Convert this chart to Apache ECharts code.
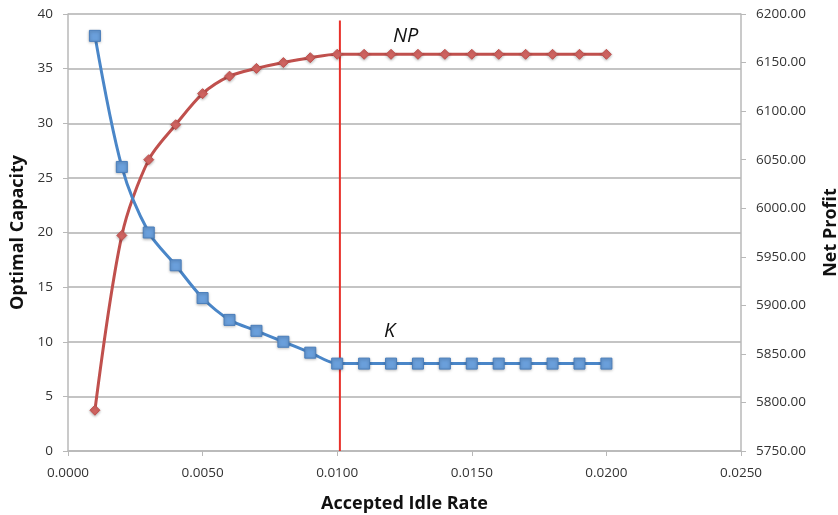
<!DOCTYPE html>
<html>
<head>
<meta charset="utf-8">
<script src="https://cdn.jsdelivr.net/npm/echarts@6/dist/echarts.min.js"></script>
<style>
  html, body { margin: 0; padding: 0; background: #fff; }
  #chart { width: 838px; height: 515px; }
</style>
</head>
<body>
<div id="chart"></div>
<script>
// accepted idle rate
const idleRates = [0.001, 0.002, 0.003, 0.004, 0.005, 0.006, 0.007, 0.008, 0.009, 0.010,
  0.011, 0.012, 0.013, 0.014, 0.015, 0.016, 0.017, 0.018, 0.019, 0.020]
// optimal capacity K
const capacity = [38, 26, 20, 17, 14, 12, 11, 10, 9, 8, 8, 8, 8, 8, 8, 8, 8, 8, 8, 8]
// net profit NP
const netProfit = [5792, 5972, 6050, 6086, 6118, 6136, 6144, 6150, 6155, 6158.5,
  6158.5, 6158.5, 6158.5, 6158.5, 6158.5, 6158.5, 6158.5, 6158.5, 6158.5, 6158.5]
// vertical marker line
const cutX = [0.0101, 0.0101]
const cutY = [0, 39.4]

const chart = echarts.init(document.getElementById('chart'))

const axisGray = '#b8b8b8'
const labelStyle = { color: '#333', fontSize: 13.5, fontFamily: 'Open Sans' }
const titleStyle = { color: '#111', fontSize: 18, fontWeight: 'bold', fontFamily: 'Open Sans' }

const option = {
  animation: false,
  grid: { left: 68, right: 97, top: 14, bottom: 64, outerBoundsMode: 'none', containLabel: false },
  xAxis: {
    type: 'value',
    min: 0,
    max: 0.025,
    interval: 0.005,
    name: 'Accepted Idle Rate',
    nameLocation: 'middle',
    nameGap: 44,
    nameTextStyle: titleStyle,
    axisLine: { lineStyle: { color: axisGray, width: 1.5 } },
    axisTick: { show: true, length: 5, lineStyle: { color: axisGray } },
    axisLabel: Object.assign({ margin: 15, formatter: v => v.toFixed(4) }, labelStyle),
    splitLine: { show: false }
  },
  yAxis: [
    {
      type: 'value',
      min: 0,
      max: 40,
      interval: 5,
      name: 'Optimal Capacity',
      nameLocation: 'middle',
      nameGap: 36,
      nameTextStyle: titleStyle,
      axisLine: { show: true, lineStyle: { color: axisGray, width: 1.5 } },
      axisTick: { show: true, length: 5, lineStyle: { color: axisGray } },
      axisLabel: Object.assign({ margin: 15 }, labelStyle),
      splitLine: { lineStyle: { color: '#c4c4c4', width: 2 } }
    },
    {
      type: 'value',
      min: 5750,
      max: 6200,
      interval: 50,
      position: 'right',
      name: 'Net Profit',
      nameLocation: 'middle',
      nameGap: 81,
      nameRotate: 90,
      nameTextStyle: titleStyle,
      axisLine: { show: true, lineStyle: { color: axisGray, width: 1.5 } },
      axisTick: { show: true, length: 5, lineStyle: { color: axisGray } },
      axisLabel: Object.assign({ margin: 15, formatter: v => v.toFixed(2) }, labelStyle),
      splitLine: { show: false }
    }
  ],
  series: [
    {
      name: 'cut',
      type: 'line',
      yAxisIndex: 0,
      data: cutX.map((x, i) => [x, cutY[i]]),
      showSymbol: false,
      lineStyle: { color: '#e8302a', width: 2 },
      z: 1
    },
    {
      name: 'NP',
      type: 'line',
      yAxisIndex: 1,
      data: idleRates.map((x, i) => [x, netProfit[i]]),
      smooth: 0.3,
      symbol: 'diamond',
      symbolSize: 10,
      lineStyle: { color: '#c0504d', width: 3 },
      itemStyle: { color: '#d36562', borderColor: '#c0504d', borderWidth: 1,
        shadowBlur: 3, shadowColor: 'rgba(0,0,0,0.3)', shadowOffsetY: 1 },
      z: 3
    },
    {
      name: 'K',
      type: 'line',
      yAxisIndex: 0,
      data: idleRates.map((x, i) => [x, capacity[i]]),
      smooth: 0.3,
      symbol: 'rect',
      symbolSize: 11,
      lineStyle: { color: '#4a86c8', width: 3 },
      itemStyle: { color: '#6a9fdb', borderColor: '#4a7ebb', borderWidth: 1,
        shadowBlur: 3, shadowColor: 'rgba(0,0,0,0.3)', shadowOffsetY: 1 },
      z: 4
    }
  ],
  graphic: [
    { type: 'text', x: 393, y: 36,
      style: { text: 'NP', font: 'italic 20px "Open Sans"', fill: '#111', verticalAlign: 'middle' } },
    { type: 'text', x: 384, y: 331,
      style: { text: 'K', font: 'italic 20px "Open Sans"', fill: '#111', verticalAlign: 'middle' } }
  ]
}

chart.setOption(option)
</script>
</body>
</html>
